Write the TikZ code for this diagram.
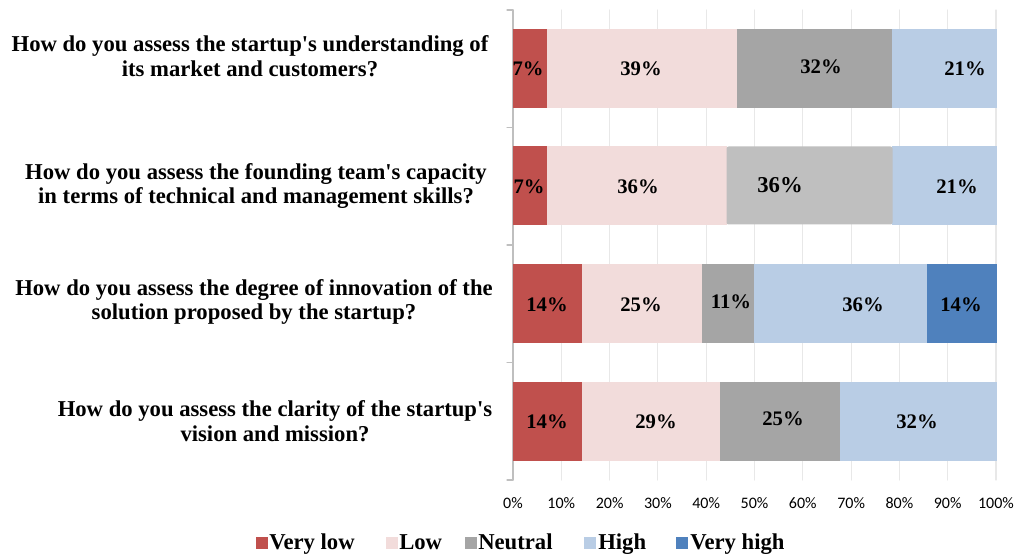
\documentclass[tikz,border=0pt]{standalone}
\usepackage{fontspec}
\setmainfont{Liberation Serif}
\newfontfamily\axisfont{Carlito}
\definecolor{verylow}{HTML}{C0504D}
\definecolor{low}{HTML}{F2DCDB}
\definecolor{neutral}{HTML}{A5A5A5}
\definecolor{neutrallight}{HTML}{BFBFBF}
\definecolor{high}{HTML}{B9CDE5}
\definecolor{veryhigh}{HTML}{4F81BD}
\newcommand{\apos}{\textquotesingle}
\begin{document}
\begin{tikzpicture}[x=0.75pt,y=-0.75pt,line cap=round,
		question/.style={align=center,font=\fontsize{17}{18.4}\bfseries,inner sep=0},
		pct/.style={font=\fontsize{15.5}{18}\bfseries,inner sep=0},
		tick/.style={font=\axisfont\fontsize{12}{14}\selectfont,inner sep=0},
		legtext/.style={font=\fontsize{17}{20}\bfseries,inner sep=0,anchor=base west},
		legbox/.style={minimum size=8.5pt,inner sep=0,anchor=west},
		seg/.style={draw=white,line width=0.4pt}]
		\useasboundingbox (0,0) rectangle (1016,555);
		% grid and axis
		\foreach \k in {1,...,10}
			\draw[gray!18,line width=0.8pt] (513+48.3*\k,10) -- (513+48.3*\k,480);
		\draw[gray!50,line width=0.8pt] (513,10) -- (513,480);
		\foreach \y in {10,127.5,245,362.5,480}
			\draw[gray!50,line width=0.8pt] (507,\y) -- (513,\y);
		\foreach \k in {0,...,10}
			\node[tick] (t\k) at (513+48.3*\k,503) {\pgfmathparse{int(10*\k)}\pgfmathresult\%};
		% questions
		\node[question] (q0) at (250,56) {How do you assess the startup\apos s understanding of\\its market and customers?};
		\node[question] (q1) at (256,186) {How do you assess the founding team\apos s capacity\\in terms of technical and management skills?};
		\node[question] (q2) at (254,302) {How do you assess the degree of innovation of the\\solution proposed by the startup?};
		\node[question] (q3) at (275,421) {How do you assess the clarity of the startup\apos s\\vision and mission?};
		% bar 1
		\fill[seg,verylow] (513,29) rectangle (547.5,107);
		\fill[seg,low] (547.5,29) rectangle (737,107);
		\fill[seg,neutral] (737,29) rectangle (892.5,107);
		\fill[seg,high] (892.5,29) rectangle (996,107);
		\node[pct] (p00) at (528,69) {7\%};
		\node[pct] (p01) at (641,69) {39\%};
		\node[pct] (p02) at (821,67) {32\%};
		\node[pct] (p03) at (965,69) {21\%};
		% bar 2
		\fill[seg,verylow] (513,146.5) rectangle (547.5,224.5);
		\fill[seg,low] (547.5,146.5) rectangle (726.5,224.5);
		\fill[seg,high] (892.5,146.5) rectangle (996,224.5);
		\fill[neutrallight,rounded corners=1.5pt] (726.5,146.5) rectangle (892.5,224.5);
		\node[pct] (p10) at (529,187) {7\%};
		\node[pct] (p11) at (638,187) {36\%};
		\node[pct,font=\fontsize{17}{20}\bfseries] (p12) at (780,185) {36\%};
		\node[pct] (p13) at (957,187) {21\%};
		% bar 3
		\fill[seg,verylow] (513,264.5) rectangle (582,342.5);
		\fill[seg,low] (582,264.5) rectangle (702.5,342.5);
		\fill[seg,neutral] (702.5,264.5) rectangle (754.5,342.5);
		\fill[seg,high] (754.5,264.5) rectangle (927,342.5);
		\fill[seg,veryhigh] (927,264.5) rectangle (996,342.5);
		\node[pct] (p20) at (547,305) {14\%};
		\node[pct] (p21) at (641,305) {25\%};
		\node[pct] (p22) at (731,302) {11\%};
		\node[pct] (p23) at (863,305) {36\%};
		\node[pct] (p24) at (961,305) {14\%};
		% bar 4
		\fill[seg,verylow] (513,382) rectangle (582,460);
		\fill[seg,low] (582,382) rectangle (720,460);
		\fill[seg,neutral] (720,382) rectangle (840.5,460);
		\fill[seg,high] (840.5,382) rectangle (996,460);
		\node[pct] (p30) at (547,422) {14\%};
		\node[pct] (p31) at (656,422) {29\%};
		\node[pct] (p32) at (783,419) {25\%};
		\node[pct] (p33) at (917,422) {32\%};
		% legend
		\node[legbox,fill=verylow] (l0) at (256,543) {};
		\node[legtext] (lt0) at (269,549) {Very low};
		\node[legbox,fill=low] (l1) at (386,543) {};
		\node[legtext] (lt1) at (399,549) {Low};
		\node[legbox,fill=neutral] (l2) at (465,543) {};
		\node[legtext] (lt2) at (478,549) {Neutral};
		\node[legbox,fill=high] (l3) at (584,543) {};
		\node[legtext] (lt3) at (598,549) {High};
		\node[legbox,fill=veryhigh] (l4) at (676,543) {};
		\node[legtext] (lt4) at (690,549) {Very high};
\end{tikzpicture}
\end{document}
